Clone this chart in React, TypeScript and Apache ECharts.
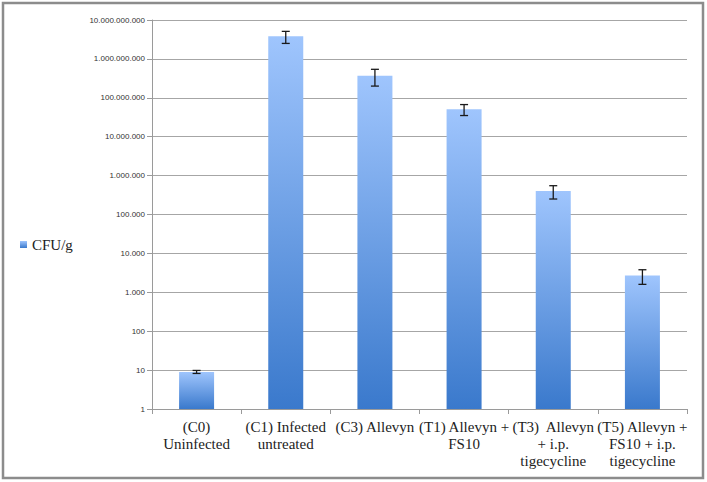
import React, { useEffect, useRef } from "react";
import * as echarts from "echarts";

const categories = [
  "(C0)\nUninfected",
  "(C1) Infected\nuntreated",
  "(C3) Allevyn",
  "(T1) Allevyn +\nFS10",
  "(T3)  Allevyn\n+ i.p.\ntigecycline",
  "(T5) Allevyn +\nFS10 + i.p.\ntigecycline",
];
const cfuValues = [9, 3.8e9, 3.7e8, 5.1e7, 4.0e5, 2700];
const cfuErrors = [0.8, 1.3e9, 1.7e8, 1.6e7, 1.5e5, 1100];
const seriesName = "CFU/g";

function fmt(v: number): string {
  const s = String(Math.round(v));
  return s.replace(/\B(?=(\d{3})+(?!\d))/g, ".");
}

export default function App() {
  const ref = useRef<HTMLDivElement>(null);
  useEffect(() => {
    document.body.style.margin = "0";
    const chart = echarts.init(ref.current!, undefined, { renderer: "svg" });
    const errData = cfuValues.map((v, i) => [i, v, cfuErrors[i]]);
    chart.setOption({
      animation: false,
      backgroundColor: "#ffffff",
      graphic: [
        {
          type: "rect",
          shape: { x: 3, y: 3, width: 700, height: 475 },
          style: { fill: "none", stroke: "#8c8c8c", lineWidth: 2.5 },
          silent: true,
        },
      ],
      legend: {
        show: true,
        left: 15,
        top: 232,
        icon: "rect",
        itemWidth: 7,
        itemHeight: 7,
        itemGap: 4,
        data: [seriesName],
        textStyle: {
          fontFamily: "Liberation Serif",
          fontSize: 15,
          color: "#222",
        },
      },
      grid: { left: 152, top: 20, width: 535, height: 389 },
      xAxis: {
        type: "category",
        data: categories,
        axisLine: { lineStyle: { color: "#9a9a9a", width: 1 } },
        axisTick: { show: true, length: 5, lineStyle: { color: "#9a9a9a" } },
        axisLabel: {
          interval: 0,
          margin: 9,
          fontFamily: "Liberation Serif",
          fontSize: 15,
          lineHeight: 17,
          color: "#222",
          align: "center",
        },
      },
      yAxis: {
        type: "log",
        logBase: 10,
        min: 1,
        max: 1e10,
        interval: 1,
        axisLine: { show: true, lineStyle: { color: "#9a9a9a", width: 1 } },
        axisTick: { show: true, length: 5, lineStyle: { color: "#9a9a9a" } },
        splitLine: { show: true, lineStyle: { color: "#a6a6a6", width: 1 } },
        axisLabel: {
          formatter: (v: number) => fmt(v),
          fontFamily: "Liberation Sans",
          fontSize: 8,
          color: "#333",
          margin: 7,
        },
      },
      series: [
        {
          name: seriesName,
          type: "bar",
          data: cfuValues,
          barWidth: 35,
          itemStyle: {
            color: new echarts.graphic.LinearGradient(0, 0, 0, 1, [
              { offset: 0, color: "#9fc5fd" },
              { offset: 1, color: "#3a79cc" },
            ]),
          },
        },
        {
          name: "err",
          type: "custom",
          data: errData,
          encode: { x: 0, y: 1 },
          z: 10,
          renderItem: (params: any, api: any) => {
            const i = api.value(0);
            const v = api.value(1);
            const e = api.value(2);
            const top = api.coord([i, v + e]);
            const bot = api.coord([i, Math.max(v - e, 1)]);
            const hw = 4;
            const st = { stroke: "#1a1a1a", lineWidth: 1.3 };
            return {
              type: "group",
              children: [
                { type: "line", shape: { x1: top[0], y1: top[1], x2: bot[0], y2: bot[1] }, style: st },
                { type: "line", shape: { x1: top[0] - hw, y1: top[1], x2: top[0] + hw, y2: top[1] }, style: st },
                { type: "line", shape: { x1: bot[0] - hw, y1: bot[1], x2: bot[0] + hw, y2: bot[1] }, style: st },
              ],
            };
          },
        },
      ],
    });
    return () => chart.dispose();
  }, []);
  return <div ref={ref} style={{ width: 707, height: 482 }} />;
}
